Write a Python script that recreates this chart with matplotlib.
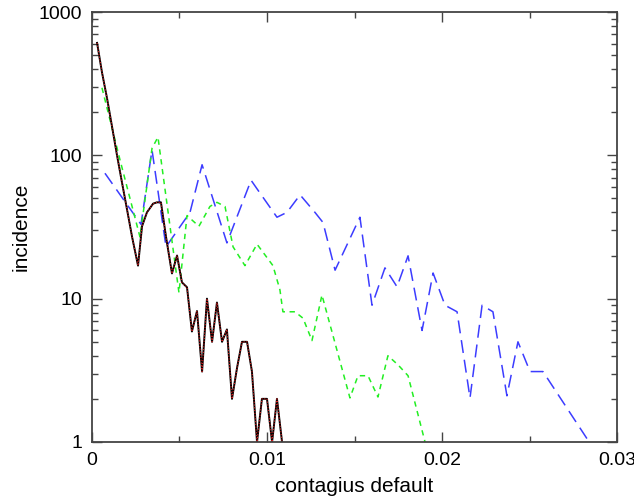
import matplotlib.pyplot as plt
from matplotlib.ticker import MultipleLocator, LogLocator, NullFormatter, FixedLocator

plt.rcParams["font.family"] = ["Liberation Sans", "DejaVu Sans"]

# ---- datos ----
x_negro = [0.00029, 0.00057, 0.00086, 0.00114, 0.00143, 0.00171, 0.0020, 0.00229,
           0.00263, 0.00286, 0.00314, 0.00349, 0.00371, 0.00394, 0.00423, 0.00457,
           0.00486, 0.00514, 0.00543, 0.00571, 0.0060, 0.00629, 0.00657, 0.00686,
           0.00714, 0.00743, 0.00771, 0.0080, 0.00829, 0.00857, 0.00886, 0.00914,
           0.00943, 0.00971, 0.0100, 0.01029, 0.01057, 0.01086]
y_negro = [609, 380, 250, 160, 100, 65, 42, 27,
           17, 32, 40, 46, 47, 47, 27, 15,
           20, 13, 12, 5.9, 8.2, 3.1, 10, 5,
           9.4, 5, 6.1, 2, 3.3, 5, 5, 3.1,
           1, 2, 2, 1, 2, 1]

x_verde = [0.00057, 0.00160, 0.00274, 0.00343, 0.00377, 0.00497, 0.00543, 0.00611,
           0.00674, 0.00714, 0.0076, 0.00806, 0.00874, 0.00943, 0.01034, 0.01074,
           0.01091, 0.0116, 0.01206, 0.01257, 0.01314, 0.01474, 0.0152, 0.01577,
           0.01634, 0.01691, 0.01749, 0.01806, 0.01903]
y_verde = [296, 93, 27, 112, 134, 11, 38, 32,
           44, 47, 44, 23, 17, 24, 17, 11.5,
           8.1, 8.1, 7.3, 5.1, 10.6, 2.03, 2.9, 2.9,
           2.06, 4.0, 3.45, 2.9, 1.0]

x_azul = [0.00074, 0.0028, 0.00343, 0.00423, 0.0056, 0.00629, 0.00771, 0.00909,
          0.00949, 0.01057, 0.01114, 0.01189, 0.01274, 0.0132, 0.01389, 0.01531,
          0.0160, 0.01674, 0.01743, 0.01806, 0.01886, 0.01949, 0.02017, 0.02086,
          0.0216, 0.02229, 0.02291, 0.02371, 0.02434, 0.02503, 0.02577, 0.02834]
y_azul = [75, 33, 109, 23, 40, 86, 24.5, 67,
          57, 37, 40, 53, 40, 34, 15.8, 37,
          9.0, 16.4, 12.1, 19.9, 6.0, 15.1, 9.0, 8.1,
          2.03, 9.0, 8.1, 2.1, 5.0, 3.1, 3.1, 1.03]

x_ticks = [0, 0.01, 0.02, 0.03]
x_tick_labels = ["0", "0.01", "0.02", "0.03"]
y_ticks = [1, 10, 100, 1000]
y_tick_labels = ["1", "10", "100", "1000"]

# ---- figura ----
fig = plt.figure(figsize=(6.34, 5.01), dpi=100)
ax = fig.add_axes([0.1451, 0.1178, 0.8281, 0.8582])

ax.plot(x_azul, y_azul, color="#3c3cff", lw=1.1, dashes=(8.5, 4.5))
ax.plot(x_verde, y_verde, color="#22ee22", lw=1.1, dashes=(3.5, 3))
ax.plot(x_negro, y_negro, color="black", lw=1.4)
ax.plot(x_negro, y_negro, color="#e02020", lw=0.8, dashes=(1, 1.5))

ax.set_yscale("log")
ax.set_xlim(0, 0.03)
ax.set_ylim(1, 1000)

ax.xaxis.set_major_locator(FixedLocator(x_ticks))
ax.set_xticklabels(x_tick_labels)
ax.xaxis.set_minor_locator(MultipleLocator(0.005))
ax.yaxis.set_major_locator(FixedLocator(y_ticks))
ax.set_yticklabels(y_tick_labels)
ax.yaxis.set_minor_locator(LogLocator(base=10, subs=range(2, 10)))
ax.yaxis.set_minor_formatter(NullFormatter())

ax.tick_params(which="both", direction="in", top=True, right=True,
               labelsize=14, color="#444444", width=1.0)
ax.tick_params(which="major", length=7, pad=7)
ax.tick_params(which="minor", length=4)

for s in ax.spines.values():
    s.set_color("#444444")
    s.set_linewidth(1.3)

ax.set_xlabel("contagius default", fontsize=15, labelpad=6)
ax.set_ylabel("incidence", fontsize=15, labelpad=6)

fig.savefig("out.png", dpi=100)
